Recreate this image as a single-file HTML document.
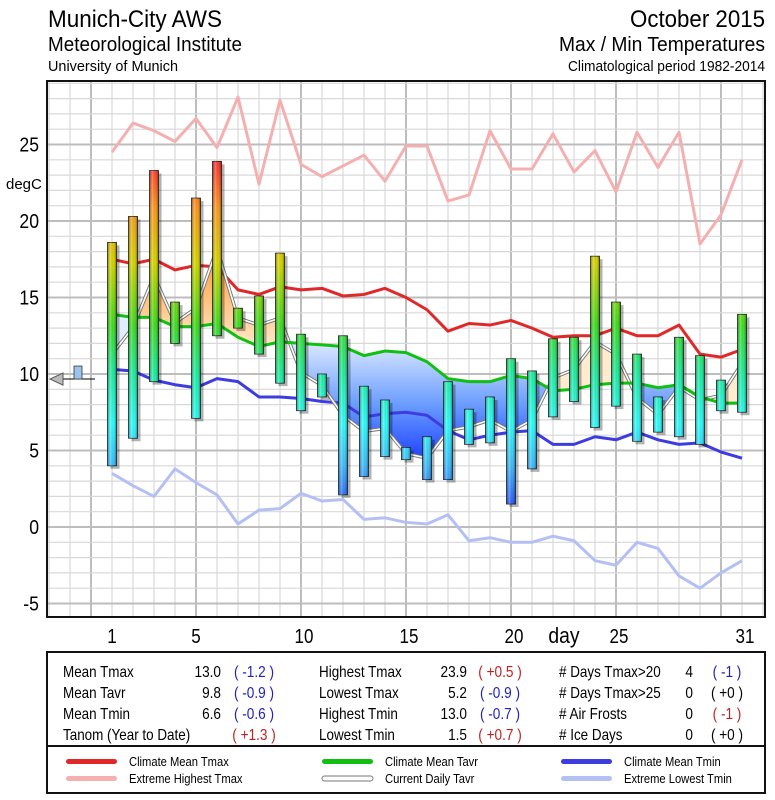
<!DOCTYPE html>
<html><head><meta charset="utf-8"><style>
html,body{margin:0;padding:0;background:#fff;}
svg{display:block;font-family:"Liberation Sans Narrow","Liberation Sans",sans-serif;}
</style></head><body>
<svg id="chart" width="775" height="800" viewBox="0 0 775 800" xmlns="http://www.w3.org/2000/svg">
<defs>
<linearGradient id="barGrad" gradientUnits="userSpaceOnUse" x1="0" y1="527" x2="0" y2="160">
<stop offset="0" stop-color="#2020ff"/>
<stop offset="0.08" stop-color="#3070ff"/>
<stop offset="0.17" stop-color="#40c0ff"/>
<stop offset="0.28" stop-color="#30ffff"/>
<stop offset="0.42" stop-color="#20f0a0"/>
<stop offset="0.55" stop-color="#40e020"/>
<stop offset="0.72" stop-color="#d8d800"/>
<stop offset="0.87" stop-color="#ff9a20"/>
<stop offset="1" stop-color="#ff3030"/>
</linearGradient>
<linearGradient id="barShade" x1="0" y1="0" x2="1" y2="0">
<stop offset="0" stop-color="#000" stop-opacity="0.35"/>
<stop offset="0.35" stop-color="#fff" stop-opacity="0.25"/>
<stop offset="0.7" stop-color="#000" stop-opacity="0"/>
<stop offset="1" stop-color="#000" stop-opacity="0.4"/>
</linearGradient>
<linearGradient id="blueFill" gradientUnits="userSpaceOnUse" x1="0" y1="340" x2="0" y2="470">
<stop offset="0" stop-color="#e0ecff"/>
<stop offset="0.5" stop-color="#6a9cff"/>
<stop offset="1" stop-color="#1030ff"/>
</linearGradient>
<linearGradient id="orangeFill" gradientUnits="userSpaceOnUse" x1="0" y1="260" x2="0" y2="350">
<stop offset="0" stop-color="#ffa040"/>
<stop offset="1" stop-color="#ffecd0"/>
</linearGradient>
</defs>
<g id="header">
<text x="48" y="27" font-size="24" textLength="174" lengthAdjust="spacingAndGlyphs">Munich-City AWS</text>
<text x="48" y="51" font-size="20" textLength="194" lengthAdjust="spacingAndGlyphs">Meteorological Institute</text>
<text x="48" y="71" font-size="15" textLength="130" lengthAdjust="spacingAndGlyphs">University of Munich</text>
<text x="765" y="27" font-size="24" text-anchor="end" textLength="135" lengthAdjust="spacingAndGlyphs">October 2015</text>
<text x="765" y="51" font-size="20" text-anchor="end" textLength="206" lengthAdjust="spacingAndGlyphs">Max / Min Temperatures</text>
<text x="765" y="71" font-size="15" text-anchor="end" textLength="197" lengthAdjust="spacingAndGlyphs">Climatological period 1982-2014</text>
</g>
<rect x="47" y="81" width="718" height="536" fill="#fff"/>
<g id="grid"></g>
<g id="fills"></g>
<g id="lines"></g>
<g id="bars"></g>
<g id="axes"></g>
<rect x="47" y="81" width="718" height="536" fill="none" stroke="#111" stroke-width="2"/>
<g id="stats">
<rect x="47" y="652" width="718" height="94" fill="#fff" stroke="#111" stroke-width="2"/>
<rect x="47" y="746" width="718" height="47" fill="#fff" stroke="#111" stroke-width="2"/>
</g>
</svg>
<script>
const days = [1,2,3,4,5,6,7,8,9,10,11,12,13,14,15,16,17,18,19,20,21,22,23,24,25,26,27,28,29,30,31];
const tmax = [18.6,20.3,23.3,14.7,21.5,23.9,14.3,15.1,17.9,12.6,10.0,12.5,9.2,8.3,5.2,5.9,9.5,7.7,8.5,11.0,10.2,12.3,12.4,17.7,14.7,11.3,8.5,12.4,11.2,9.6,13.9];
const tmin = [4.0,5.8,9.5,12.0,7.1,12.5,13.0,11.3,9.4,7.6,8.5,2.1,3.3,4.6,4.4,3.1,3.1,5.4,5.5,1.5,3.8,7.2,8.2,6.5,7.9,5.6,6.2,5.9,5.4,7.6,7.5];
const climMax = [17.5,17.2,17.5,16.8,17.1,17.0,15.5,15.2,15.7,15.5,15.6,15.1,15.2,15.6,15.0,14.2,12.8,13.3,13.2,13.5,13.0,12.4,12.5,12.5,13.0,12.5,12.5,13.2,11.3,11.1,11.6];
const climAvg = [13.9,13.7,13.7,13.1,13.1,13.3,12.4,11.8,12.1,12.0,11.9,11.8,11.2,11.5,11.4,10.8,9.7,9.5,9.5,9.9,9.7,8.9,9.0,9.3,9.4,9.4,9.1,9.3,8.5,8.1,8.1];
const climMin = [10.3,10.2,9.6,9.3,9.1,9.7,9.5,8.5,8.5,8.4,8.2,8.1,7.2,7.4,7.5,7.3,6.3,5.7,6.0,6.2,6.3,5.4,5.4,5.9,5.7,6.2,5.7,5.4,5.5,4.9,4.5];
const extMax = [24.5,26.4,25.9,25.2,26.7,24.8,28.1,22.4,27.9,23.7,22.9,23.6,24.3,22.6,24.9,24.9,21.3,21.7,25.9,23.4,23.4,25.7,23.2,24.6,21.9,25.8,23.5,25.8,18.5,20.4,24.0];
const extMin = [3.5,2.7,2.0,3.8,2.9,2.1,0.2,1.1,1.2,2.2,1.7,1.8,0.5,0.6,0.3,0.2,0.8,-0.9,-0.7,-1.0,-1.0,-0.6,-0.9,-2.2,-2.5,-1.0,-1.4,-3.2,-4.0,-3.0,-2.2];
const yTicks = [25,20,15,10,5,0,-5];
const xTicks = [1,5,10,15,20,25,31];
const monthMean = 9.8;

const NS = "http://www.w3.org/2000/svg";
const X0 = 112, DX = 21, Y0 = 527, DY = 15.3;
function xs(d){ return X0 + (d-1)*DX; }
function ys(v){ return Y0 - v*DY; }
function mk(tag, attrs, parent){
  const e = document.createElementNS(NS, tag);
  for (const k in attrs) e.setAttribute(k, attrs[k]);
  parent.appendChild(e); return e;
}
function narrow(t, f){
  const w = t.getComputedTextLength();
  if (w > 0) { t.setAttribute('textLength', (w*f).toFixed(1)); t.setAttribute('lengthAdjust', 'spacingAndGlyphs'); }
}
const svg = document.getElementById('chart');
const grid = document.getElementById('grid');
const fills = document.getElementById('fills');
const lines = document.getElementById('lines');
const bars = document.getElementById('bars');
const axes = document.getElementById('axes');
const stats = document.getElementById('stats');

for (let d = -2; d <= 32; d++) {
  const x = xs(d);
  if (x < 48 || x > 764) continue;
  const l = mk('line', {x1:x, y1:82, x2:x, y2:616, stroke: d%5===0 ? '#bdbdbd' : '#d8d8d8', 'stroke-width': d%5===0 ? 2 : 1.2}, grid);
  
  
}
for (let v = -6; v <= 29; v++) {
  const y = ys(v);
  if (y < 82 || y > 616) continue;
  const l = mk('line', {x1:48, y1:y, x2:764, y2:y, stroke: v%5===0 ? '#bdbdbd' : '#d8d8d8', 'stroke-width': v%5===0 ? 2 : 1.2}, grid);
  
  
}

function pts(arr){ return arr.map((v,i)=>xs(days[i])+','+ys(v)).join(' '); }
const curAvg = tmax.map((v,i)=>(v+tmin[i])/2);

const clipAbove = mk('clipPath', {id:'clipAbove'}, svg);
mk('polygon', {points: pts(climAvg)+' '+xs(31)+',0 '+xs(1)+',0'}, clipAbove);
const clipBelow = mk('clipPath', {id:'clipBelow'}, svg);
mk('polygon', {points: pts(climAvg)+' '+xs(31)+',800 '+xs(1)+',800'}, clipBelow);
const between = pts(curAvg)+' '+climAvg.map((v,i)=>xs(days[i])+','+ys(v)).reverse().join(' ');
const fo = mk('polygon', {points: between, fill:'url(#orangeFill)', 'clip-path':'url(#clipAbove)'}, fills);


const fb = mk('polygon', {points: between, fill:'url(#blueFill)', 'clip-path':'url(#clipBelow)'}, fills);



function series(arr, color, w, name){
  const p = mk('polyline', {points: pts(arr), fill:'none', stroke: color, 'stroke-width': w, 'stroke-linejoin':'round'}, lines);
  
  
  return p;
}
series(extMax, '#f4b0b0', 3, 'extreme-highest-tmax-line');
series(extMin, '#b4c0f4', 3, 'extreme-lowest-tmin-line');
series(climMax, '#e02828', 3, 'climate-mean-tmax-line');
series(climMin, '#3c3ce0', 3, 'climate-mean-tmin-line');
series(curAvg, '#777', 3.5, 'current-daily-tavr-outline');
series(curAvg, '#fff', 1.6, 'current-daily-tavr-line');
series(climAvg, '#10c010', 3, 'climate-mean-tavr-line');

days.forEach((d,i)=>{
  const x = xs(d) - 4.5, yt = ys(tmax[i]), h = ys(tmin[i]) - yt;
  const s = mk('rect', {x:x+3, y:yt+3, width:9, height:h, fill:'#000', opacity:0.3}, bars);
  
  
  const b = mk('rect', {x:x, y:yt, width:9, height:h, fill:'url(#barGrad)', stroke:'#222', 'stroke-width':0.8}, bars);
  
  
  const sh = mk('rect', {x:x, y:yt, width:9, height:h, fill:'url(#barShade)'}, bars);
  
  
});

const mm = mk('g', {}, axes);


mk('line', {x1:58, y1:ys(monthMean)+2, x2:95, y2:ys(monthMean)+2, stroke:'#000', 'stroke-width':1}, mm);
mk('polygon', {points:'50,'+(ys(monthMean)+2)+' 63,'+(ys(monthMean)-4)+' 63,'+(ys(monthMean)+8), fill:'#bbb', stroke:'#555', 'stroke-width':1}, mm);
mk('rect', {x:74, y:ys(monthMean)-11, width:8, height:13, fill:'#9cc4ec', stroke:'#333', 'stroke-width':0.8}, mm);

yTicks.forEach(v=>{
  const t = mk('text', {x:39, y:ys(v)+7, 'font-size':20, 'text-anchor':'end'}, axes);
  t.textContent = v;
  
  
  narrow(t, 0.88);
});
const yt = mk('text', {x:6, y:189, 'font-size':15}, axes);
yt.textContent = 'degC';


xTicks.forEach(d=>{
  const t = mk('text', {x:xs(d)+(d>=10?3:0), y:643, 'font-size':20, 'text-anchor':'middle'}, axes);
  t.textContent = d;
  
  
  narrow(t, 0.85);
});
const xt = mk('text', {x:564, y:643, 'font-size':22, 'text-anchor':'middle'}, axes);
xt.textContent = 'day';


narrow(xt, 0.88);

const rowsY = [677, 698, 719, 740];
const statCols = [
  {lx:63, vx:221, px:254, rows:[['Mean Tmax','13.0','( -1.2 )','#2020c0'],['Mean Tavr','9.8','( -0.9 )','#2020c0'],['Mean Tmin','6.6','( -0.6 )','#2020c0'],['Tanom (Year to Date)','','( +1.3 )','#c02020']]},
  {lx:319, vx:467, px:500, rows:[['Highest Tmax','23.9','( +0.5 )','#c02020'],['Lowest Tmax','5.2','( -0.9 )','#2020c0'],['Highest Tmin','13.0','( -0.7 )','#2020c0'],['Lowest Tmin','1.5','( +0.7 )','#c02020']]},
  {lx:559, vx:693, px:727, rows:[['# Days Tmax>20','4','( -1 )','#2020c0'],['# Days Tmax>25','0','( +0 )','#000'],['# Air Frosts','0','( -1 )','#c02020'],['# Ice Days','0','( +0 )','#000']]}
];
statCols.forEach(c=>{
  c.rows.forEach((r,i)=>{
    const y = rowsY[i];
    const a = mk('text', {x:c.lx, y:y, 'font-size':16}, stats);
    a.textContent = r[0];
    
    
    narrow(a, 0.84);
    if (r[1]) {
      const b = mk('text', {x:c.vx, y:y, 'font-size':16, 'text-anchor':'end'}, stats);
      b.textContent = r[1];
      
      
      narrow(b, 0.85);
    }
    const p = mk('text', {x:c.px, y:y, 'font-size':16, 'text-anchor':'middle', fill:r[3]}, stats);
    p.textContent = r[2];
    
    
    narrow(p, 0.85);
  });
});

const legendItems = [
  [66,764,'#e02828','Climate Mean Tmax'],[66,781,'#f4b0b0','Extreme Highest Tmax'],
  [322,764,'#10c010','Climate Mean Tavr'],[322,781,'#fff','Current Daily Tavr'],
  [561,764,'#3c3ce0','Climate Mean Tmin'],[561,781,'#b4c0f4','Extreme Lowest Tmin']
];
legendItems.forEach(it=>{
  const g = mk('g', {}, stats);
  
  
  mk('rect', {x:it[0], y:it[1]-5, width:51, height:5, rx:2.5, fill:it[2], stroke: it[2]==='#fff' ? '#777' : 'none', 'stroke-width':1}, g);
  const t = mk('text', {x:it[0]+63, y:it[1]+2, 'font-size':13}, g);
  t.textContent = it[3];
  narrow(t, 0.86);
});
</script>
</body></html>
